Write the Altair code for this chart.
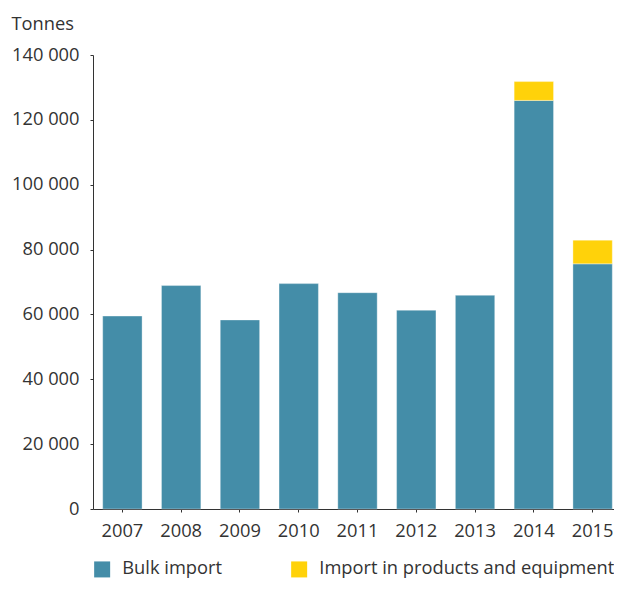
import altair as alt
import pandas as pd

years = ["2007", "2008", "2009", "2010", "2011", "2012", "2013", "2014", "2015"]
bulk = [59500, 68900, 58300, 69500, 66700, 61300, 65900, 126000, 75600]
products = [0, 0, 0, 0, 0, 0, 0, 5800, 7300]
series = ["Bulk import", "Import in products and equipment"]
colors = ["#448DA8", "#FFD20A"]

rows = []
for y, b, p in zip(years, bulk, products):
    rows.append({"year": y, "series": series[0], "value": b, "ord": 0})
    if p > 0:
        rows.append({"year": y, "series": series[1], "value": p, "ord": 1})
df = pd.DataFrame(rows)

FONT = "Open Sans"
TXT = "#333333"
FS = 18.3

chart = alt.Chart(df).mark_bar(stroke="white", strokeWidth=1, strokeOpacity=0.35).encode(
    x=alt.X("year:N", sort=years, title=None,
            scale=alt.Scale(paddingInner=0.33, paddingOuter=0.165),
            axis=alt.Axis(labelAngle=0, labelFontSize=FS, labelPadding=10, tickSize=3,
                          domainColor=TXT, tickColor=TXT, labelColor=TXT, labelFont=FONT,
                          grid=False)),
    y=alt.Y("value:Q", stack="zero", title=None,
            scale=alt.Scale(domain=[0, 140000], nice=False),
            axis=alt.Axis(values=[0, 20000, 40000, 60000, 80000, 100000, 120000, 140000],
                          labelExpr="datum.value == 0 ? '0' : format(datum.value/1000, 'd') + ' 000'",
                          labelFontSize=FS, labelPadding=11, tickSize=3, grid=False,
                          domainColor=TXT, tickColor=TXT, labelColor=TXT, labelFont=FONT)),
    color=alt.Color("series:N", sort=series, scale=alt.Scale(domain=series, range=colors),
                    legend=alt.Legend(title=None, orient="bottom", direction="horizontal",
                                      symbolType="square", symbolSize=256, symbolStrokeWidth=0,
                                      labelFontSize=FS, labelFont=FONT, labelColor=TXT,
                                      columnPadding=68, labelOffset=11, offset=20,
                                      labelLimit=400)),
    order=alt.Order("ord:Q"),
).properties(
    width=529, height=454,
    autosize=alt.AutoSizeParams(type="none"),
    padding={"left": 85, "top": 47, "right": -8, "bottom": 72},
    title=alt.TitleParams("Tonnes", anchor="start", frame="bounds", fontSize=FS,
                          font=FONT, fontWeight="normal", color=TXT, offset=11),
).configure_view(stroke=None)

chart.save("out.html", embed_options={"renderer": "svg", "actions": False})
